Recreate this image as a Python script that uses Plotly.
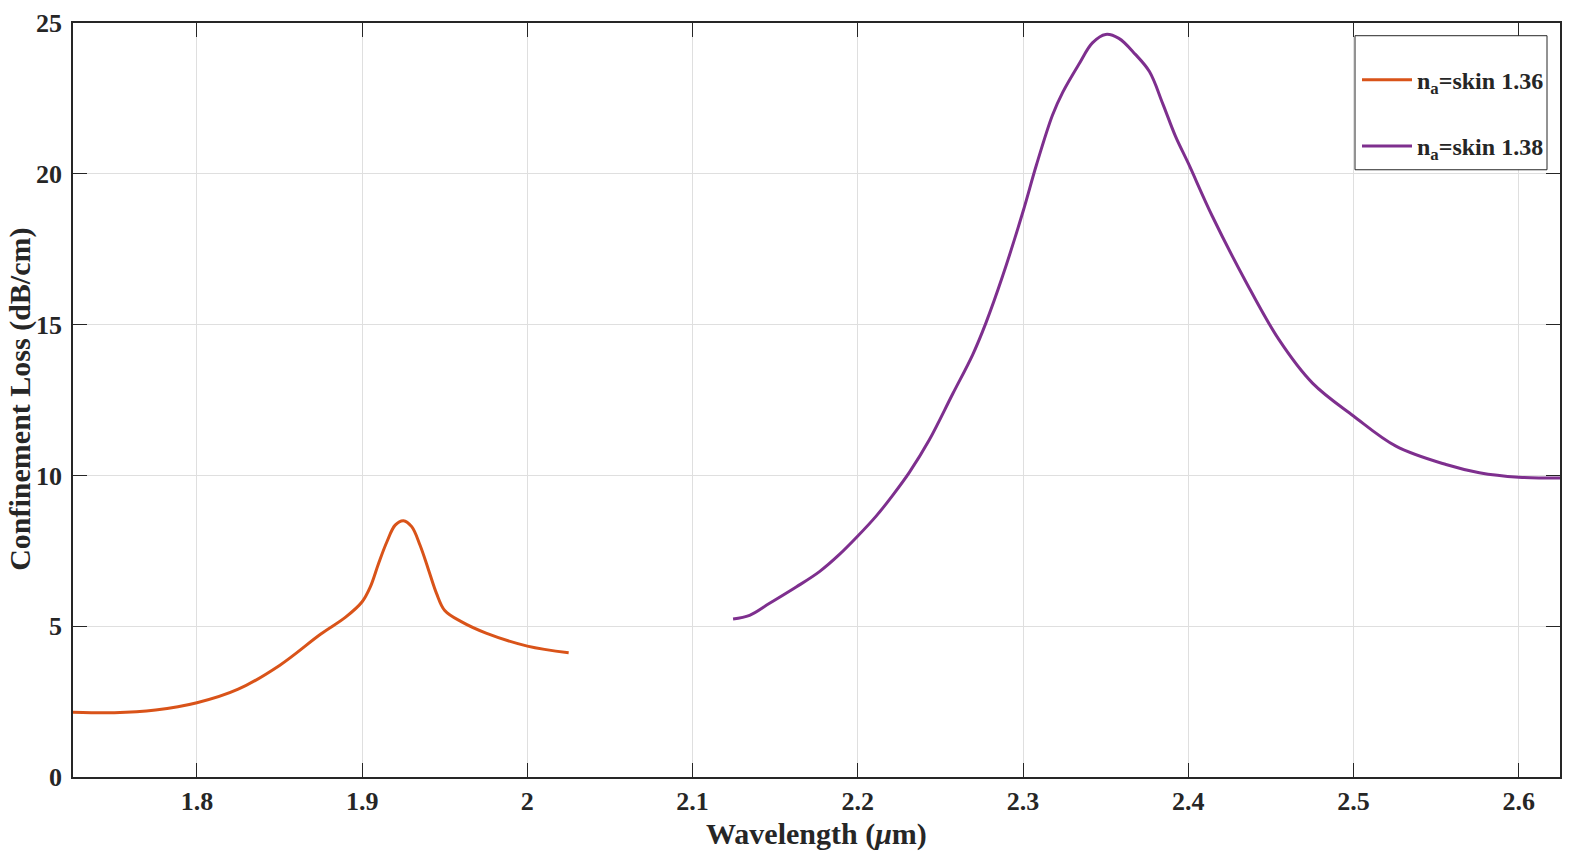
import plotly.graph_objects as go

# Series 1: n_a = skin 1.36
wl_136 = [1.725, 1.75, 1.775, 1.8, 1.825, 1.85, 1.875, 1.89, 1.9, 1.905, 1.91, 1.915, 1.92, 1.925,
          1.93, 1.935, 1.94, 1.945, 1.95, 1.96, 1.975, 2.0, 2.025]
loss_136 = [2.15, 2.13, 2.22, 2.46, 2.91, 3.70, 4.74, 5.30, 5.81, 6.31, 7.09, 7.80, 8.35, 8.50,
            8.30, 7.69, 6.90, 6.09, 5.52, 5.15, 4.77, 4.34, 4.12]

# Series 2: n_a = skin 1.38
wl_138 = [2.1245, 2.1345, 2.1466, 2.1627, 2.1768, 2.1889, 2.2, 2.2111, 2.2211, 2.2312, 2.2433,
          2.2574, 2.2695, 2.2775, 2.2876, 2.3, 2.3081, 2.3178, 2.324, 2.334, 2.342, 2.350,
          2.358, 2.368, 2.3765, 2.3846, 2.3923, 2.4, 2.4145, 2.4347, 2.4549, 2.4752, 2.5,
          2.5257, 2.556, 2.5762, 2.6, 2.625]
loss_138 = [5.24, 5.36, 5.76, 6.30, 6.81, 7.38, 7.99, 8.65, 9.34, 10.10, 11.18,
            12.70, 14.00, 15.05, 16.60, 18.75, 20.29, 21.94, 22.70, 23.65, 24.34, 24.62,
            24.49, 23.96, 23.39, 22.32, 21.24, 20.35, 18.6, 16.44, 14.5, 13.06, 11.97,
            10.97, 10.36, 10.09, 9.94, 9.91]

names = ["n<sub>a</sub>=skin 1.36", "n<sub>a</sub>=skin 1.38"]
colors = ["#D95319", "#7E2F8E"]

x_ticks = [1.8, 1.9, 2.0, 2.1, 2.2, 2.3, 2.4, 2.5, 2.6]
x_ticklabels = ["1.8", "1.9", "2", "2.1", "2.2", "2.3", "2.4", "2.5", "2.6"]
y_ticks = [0, 5, 10, 15, 20, 25]
x_title = "Wavelength (<i>μ</i>m)"
y_title = "Confinement Loss (dB/cm)"

FONT = "Liberation Serif"
TXT = "#262626"

fig = go.Figure()
fig.add_trace(go.Scatter(x=wl_136, y=loss_136, mode="lines", name=names[0],
                         line=dict(color=colors[0], width=3, shape="spline", smoothing=1.0),
                         legendgroup="a"))
fig.add_trace(go.Scatter(x=wl_138, y=loss_138, mode="lines", name=names[1],
                         line=dict(color=colors[1], width=3, shape="spline", smoothing=1.0),
                         legendgroup="b"))

axis_common = dict(
    showline=True, linecolor=TXT, linewidth=1.5, mirror="ticks",
    ticks="inside", ticklen=14, tickwidth=1.2, tickcolor=TXT,
    showgrid=True, gridcolor="#DFDFDF", gridwidth=1, zeroline=False,
    automargin=False,
    tickfont=dict(family=FONT, size=26, color=TXT, weight="bold"),
)

# page body has an 8px margin; target plot-area edges in page pixels
OFF = 8
L, R, T, B = 73, 1560, 23.3, 777
def px(x): return (x - L) / (R - L)
def py(y): return (B - y) / (B - T)

title_font = dict(family=FONT, size=30, color=TXT, weight="bold")

fig.update_layout(
    width=1594, height=858,
    margin=dict(l=L - OFF, r=1594 + OFF - R, t=T - OFF, b=858 + OFF - B, autoexpand=False),
    paper_bgcolor="white", plot_bgcolor="white",
    font=dict(family=FONT, color=TXT),
    xaxis=dict(range=[1.725, 2.625], tickvals=x_ticks, ticktext=x_ticklabels, **axis_common),
    yaxis=dict(range=[0, 25], tickvals=y_ticks, ticklabelstandoff=4, **axis_common),
    legend=dict(x=px(1357), y=py(58), xanchor="left", yanchor="top",
                bgcolor="rgba(0,0,0,0)", borderwidth=0,
                font=dict(family=FONT, size=24, color=TXT, weight="bold"),
                tracegroupgap=32, itemwidth=50),
    shapes=[dict(type="rect", xref="paper", yref="paper",
                 x0=px(1355), x1=px(1547), y0=py(170), y1=py(36),
                 line=dict(color=TXT, width=1), fillcolor="white", layer="above")],
    annotations=[
        dict(text=x_title, xref="paper", yref="paper", x=px(817), y=py(834),
             xanchor="center", yanchor="middle", showarrow=False, font=title_font,
             borderpad=0),
        dict(text=y_title, xref="paper", yref="paper", x=px(20), y=py(400),
             xanchor="center", yanchor="middle", showarrow=False, textangle=-90,
             font=title_font, borderpad=0),
    ],
    showlegend=True,
)

fig.write_html("out.html")
